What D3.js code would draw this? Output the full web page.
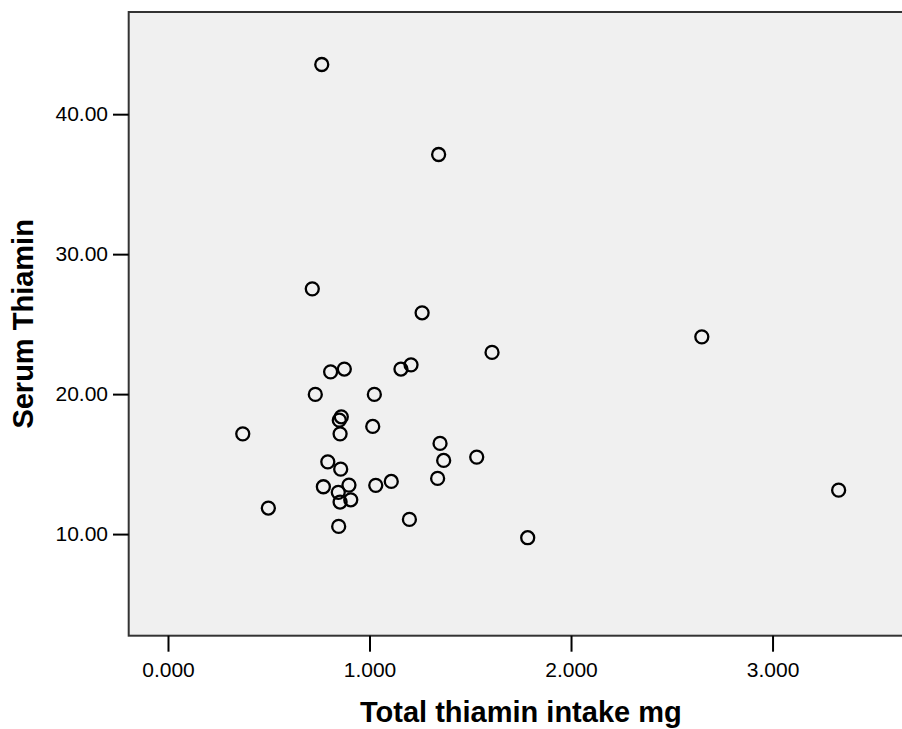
<!DOCTYPE html>
<html>
<head>
<meta charset="utf-8">
<script src="https://cdn.jsdelivr.net/npm/d3@7"></script>
<style>
  body { margin: 0; background: #fff; }
  svg { display: block; font-family: Arial, "Liberation Sans", sans-serif; }
</style>
</head>
<body>
<div class="chart"></div>
<script>
// total thiamin intake (mg) and serum thiamin, one entry per subject
const intake = [
  0.763, 1.343, 0.716, 1.261, 1.608, 2.649, 0.807, 0.875, 1.156, 1.206,
  0.731, 1.024, 0.860, 0.850, 0.854, 1.016, 0.371, 1.350, 1.368, 1.532,
  0.793, 0.857, 0.771, 0.898, 1.031, 1.108, 1.338, 0.845, 0.907, 0.854,
  0.498, 1.198, 0.847, 1.785, 3.328
];
const serum = [
  43.55, 37.12, 27.52, 25.81, 22.98, 24.09, 21.59, 21.79, 21.79, 22.09,
  19.98, 19.98, 18.38, 18.14, 17.16, 17.69, 17.16, 16.48, 15.26, 15.50,
  15.16, 14.64, 13.38, 13.50, 13.48, 13.76, 13.98, 12.98, 12.45, 12.29,
  11.86, 11.05, 10.55, 9.74, 13.14
];
const xTicks = [0, 1, 2, 3];
const yTicks = [10, 20, 30, 40];
const xDomain = [-0.195, 3.697];
const yDomain = [2.74, 47.3];

const width = 902, height = 729;
const plot = { left: 128.7, right: 913, top: 12, bottom: 635.7 };

const svg = d3.select('.chart')
  .append('svg')
  .attr('width', width)
  .attr('height', height);

const x = d3.scaleLinear(xDomain, [plot.left, plot.right]);
const y = d3.scaleLinear(yDomain, [plot.bottom, plot.top]);

svg.append('rect')
  .attr('x', plot.left)
  .attr('y', plot.top)
  .attr('width', plot.right - plot.left)
  .attr('height', plot.bottom - plot.top)
  .attr('fill', '#f0f0f0')
  .attr('stroke', '#333')
  .attr('stroke-width', 2);

const xAxis = svg.append('g')
  .attr('transform', `translate(0,${plot.bottom})`)
  .call(d3.axisBottom(x).tickValues(xTicks).tickFormat(d3.format('.3f')).tickSize(16).tickPadding(10));

const yAxis = svg.append('g')
  .attr('transform', `translate(${plot.left},0)`)
  .call(d3.axisLeft(y).tickValues(yTicks).tickFormat(d3.format('.2f')).tickSize(15.7).tickPadding(5));

[xAxis, yAxis].forEach(g => {
  g.select('.domain').remove();
  g.selectAll('.tick line').attr('stroke', '#000').attr('stroke-width', 2);
  g.selectAll('.tick text')
    .attr('fill', '#000')
    .style('font-size', '21px')
    .style('font-family', 'Arial, "Liberation Sans", sans-serif');
});

svg.append('g')
  .selectAll('circle')
  .data(d3.range(intake.length))
  .enter()
  .append('circle')
  .attr('cx', i => x(intake[i]))
  .attr('cy', i => y(serum[i]))
  .attr('r', 6.5)
  .attr('fill', 'none')
  .attr('stroke', '#000')
  .attr('stroke-width', 2.3);

svg.append('text')
  .attr('x', (plot.left + plot.right) / 2)
  .attr('y', 721.7)
  .attr('text-anchor', 'middle')
  .style('font-size', '29px')
  .style('font-weight', 'bold')
  .text('Total thiamin intake mg');

svg.append('text')
  .attr('transform', `translate(33,${(plot.top + plot.bottom) / 2}) rotate(-90)`)
  .attr('text-anchor', 'middle')
  .style('font-size', '29px')
  .style('font-weight', 'bold')
  .text('Serum Thiamin');
</script>
</body>
</html>
